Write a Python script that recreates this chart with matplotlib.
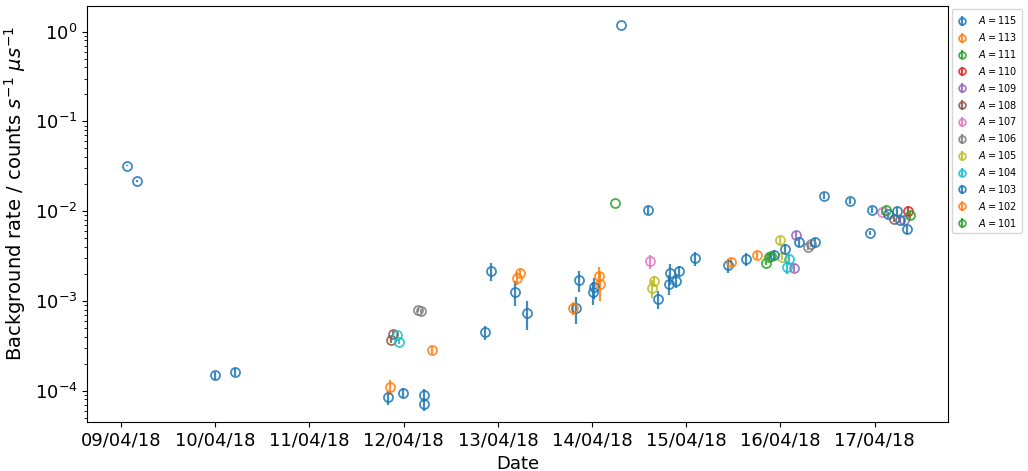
import matplotlib
matplotlib.use("Agg")
import matplotlib.pyplot as plt
import matplotlib.dates as mdates
import pandas as pd

# background rates per mass
time_115 = ["2018-04-09 01:32", "2018-04-09 04:04", "2018-04-10 00:01", "2018-04-10 05:07",
            "2018-04-11 20:02", "2018-04-11 23:51", "2018-04-12 05:12", "2018-04-12 05:12",
            "2018-04-12 20:44", "2018-04-12 22:16", "2018-04-13 04:23", "2018-04-13 07:26",
            "2018-04-13 19:55", "2018-04-13 20:41", "2018-04-14 00:16", "2018-04-14 00:30",
            "2018-04-14 07:24"]
rate_115 = [0.0319, 0.0217, 1.48e-4, 1.63e-4, 8.5e-5, 9.4e-5, 8.95e-5, 7.1e-5,
            4.51e-4, 2.16e-3, 1.26e-3, 7.34e-4, 8.34e-4, 1.71e-3, 1.26e-3, 1.43e-3, 1.19]
err_115 = [4e-4, 3e-4, 1.5e-5, 1.7e-5, 1.5e-5, 1.2e-5, 1.4e-5, 1.1e-5,
           8e-5, 5e-4, 3.9e-4, 2.6e-4, 2.8e-4, 4.4e-4, 3.6e-4, 3.7e-4, 0.005]

time_113 = ["2018-04-11 20:32", "2018-04-12 07:14", "2018-04-13 04:54", "2018-04-13 05:40",
            "2018-04-13 19:09"]
rate_113 = [1.10e-4, 2.84e-4, 1.80e-3, 2.05e-3, 8.34e-4]
err_113 = [2e-5, 3e-5, 2.8e-4, 2.1e-4, 1.3e-4]

time_111 = ["2018-04-14 05:51", "2018-04-15 20:20", "2018-04-15 21:06"]
rate_111 = [0.01234, 2.68e-3, 3.09e-3]
err_111 = [1e-4, 1.4e-4, 2.4e-4]

time_110 = ["2018-04-17 08:31"]
rate_110 = [0.01005]
err_110 = [1.3e-3]

time_109 = ["2018-04-16 03:28", "2018-04-16 03:59", "2018-04-17 07:29"]
rate_109 = [2.33e-3, 5.43e-3, 7.88e-3]
err_109 = [2.4e-4, 5.6e-4, 6e-4]

time_108 = ["2018-04-11 21:18", "2018-04-11 20:47", "2018-04-17 04:57"]
rate_108 = [4.28e-4, 3.67e-4, 8.19e-3]
err_108 = [3.3e-5, 2.8e-5, 6.3e-4]

time_107 = ["2018-04-14 14:47", "2018-04-17 01:53"]
rate_107 = [2.79e-3, 9.80e-3]
err_107 = [5e-4, 7.5e-4]

time_106 = ["2018-04-12 03:40", "2018-04-12 04:26", "2018-04-16 07:02", "2018-04-16 07:48"]
rate_106 = [7.93e-4, 7.73e-4, 3.99e-3, 4.31e-3]
err_106 = [4e-5, 4e-5, 3e-4, 3.3e-4]

time_105 = ["2018-04-14 15:48", "2018-04-14 15:17", "2018-04-15 23:54", "2018-04-16 00:24"]
rate_105 = [1.67e-3, 1.39e-3, 4.72e-3, 3.09e-3]
err_105 = [2.1e-4, 3.2e-4, 4.8e-4, 2.4e-4]

time_104 = ["2018-04-11 22:19", "2018-04-11 22:49", "2018-04-16 02:11", "2018-04-16 01:41"]
rate_104 = [4.17e-4, 3.49e-4, 2.93e-3, 2.39e-3]
err_104 = [2e-5, 2e-5, 3.8e-4, 3.7e-4]

time_103 = ["2018-04-14 14:15", "2018-04-14 16:49", "2018-04-14 19:52", "2018-04-14 19:37",
            "2018-04-14 21:24", "2018-04-14 22:10", "2018-04-15 02:14", "2018-04-15 10:39",
            "2018-04-15 15:14", "2018-04-15 22:22", "2018-04-16 01:10", "2018-04-16 04:44",
            "2018-04-16 08:49", "2018-04-16 11:06", "2018-04-16 17:44", "2018-04-16 22:50",
            "2018-04-16 23:20", "2018-04-17 03:25", "2018-04-17 05:43", "2018-04-17 06:28",
            "2018-04-17 08:15"]
rate_103 = [0.0103, 1.05e-3, 2.05e-3, 1.55e-3, 1.67e-3, 2.16e-3, 3.01e-3, 2.51e-3,
            2.93e-3, 3.25e-3, 3.79e-3, 4.54e-3, 4.54e-3, 0.01477, 0.0130, 5.72e-3,
            0.0103, 9.19e-3, 0.01005, 7.98e-3, 6.25e-3]
err_103 = [1.0e-3, 2.4e-4, 5.3e-4, 4e-4, 2.6e-4, 2.8e-4, 5.4e-4, 4.5e-4,
           4.5e-4, 4.2e-4, 4.9e-4, 5.8e-4, 4.7e-4, 1.1e-3, 1.0e-3, 3e-4,
           8e-4, 7e-4, 1.0e-3, 6e-4, 6.4e-4]

time_102 = ["2018-04-14 01:47", "2018-04-14 02:02", "2018-04-15 11:25", "2018-04-15 18:03"]
rate_102 = [1.90e-3, 1.55e-3, 2.72e-3, 3.25e-3]
err_102 = [4.9e-4, 5.6e-4, 2.8e-4, 3.3e-4]

time_101 = ["2018-04-15 21:36", "2018-04-17 02:54", "2018-04-17 08:53"]
rate_101 = [3.17e-3, 0.0103, 9.07e-3]
err_101 = [2.4e-4, 8e-4, 9e-4]

masses = [115, 113, 111, 110, 109, 108, 107, 106, 105, 104, 103, 102, 101]
times = [time_115, time_113, time_111, time_110, time_109, time_108, time_107,
         time_106, time_105, time_104, time_103, time_102, time_101]
rates = [rate_115, rate_113, rate_111, rate_110, rate_109, rate_108, rate_107,
         rate_106, rate_105, rate_104, rate_103, rate_102, rate_101]
errs = [err_115, err_113, err_111, err_110, err_109, err_108, err_107,
        err_106, err_105, err_104, err_103, err_102, err_101]

fig = plt.figure(figsize=(10.28, 4.71), dpi=100)
ax = fig.add_axes([0.0849, 0.1047, 0.8376, 0.8826])

for A, t, r, e in zip(masses, times, rates, errs):
    ax.errorbar(pd.to_datetime(t), r, yerr=e, fmt='o', mfc='none', ms=6.5,
                mew=1.3, elinewidth=1.6, alpha=0.85, label='$A = %d$' % A)

ax.set_yscale('log')
ax.set_ylim(4.52e-5, 1.93)
ax.set_xlim(pd.Timestamp("2018-04-08 15:25"), pd.Timestamp("2018-04-17 18:46"))
ax.xaxis.set_major_locator(mdates.DayLocator())
ax.xaxis.set_major_formatter(mdates.DateFormatter('%d/%m/%y'))
ax.tick_params(labelsize=13)
ax.set_xlabel("Date", fontsize=13)
ax.set_ylabel(r"Background rate / counts $s^{-1}$ $\mu s^{-1}$", fontsize=14)
ax.yaxis.set_label_coords(-0.069, 0.55)

ax.legend(loc='upper left', bbox_to_anchor=(1.0, 1.0), fontsize=7,
          markerscale=0.75, handlelength=1.2, handletextpad=1.0,
          labelspacing=0.5, borderpad=0.5, borderaxespad=0.35)

fig.savefig("out.png", dpi=100)
